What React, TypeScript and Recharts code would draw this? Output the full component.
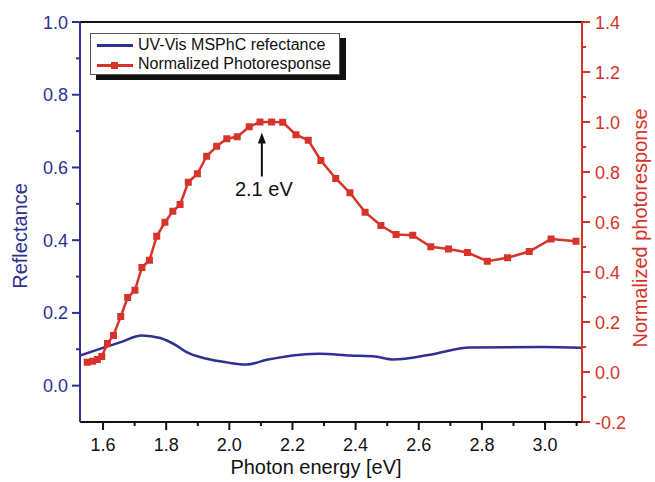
import { LineChart, Line, XAxis, YAxis, ReferenceLine } from "recharts";

// Reflectance spectrum (left axis) and normalized photoresponse (right axis)
const BLUE = "#2e3190";
const RED = "#d6342a";
const FONT = "Arial, 'Liberation Sans', sans-serif";

const reflEnergy = [1.527, 1.59, 1.654, 1.723, 1.781, 1.833, 1.865, 1.928, 1.992, 2.055, 2.119, 2.224, 2.287, 2.382, 2.462, 2.52, 2.636, 2.762, 2.994, 3.117];
const reflValue = [0.083, 0.101, 0.119, 0.138, 0.131, 0.11, 0.092, 0.074, 0.064, 0.058, 0.071, 0.085, 0.088, 0.083, 0.08, 0.072, 0.085, 0.105, 0.106, 0.104];

const photoEnergy = [
  1.55, 1.567, 1.582, 1.596, 1.614, 1.633, 1.656, 1.678, 1.701, 1.723, 1.747, 1.77, 1.796, 1.821,
  1.844, 1.87, 1.899, 1.928, 1.96, 1.992, 2.025, 2.063, 2.097, 2.134, 2.169, 2.211, 2.25, 2.29,
  2.337, 2.382, 2.43, 2.48, 2.528, 2.581, 2.638, 2.694, 2.754, 2.817, 2.881, 2.95, 3.019, 3.098,
];
const photoValue = [
  0.039, 0.043, 0.05, 0.062, 0.114, 0.146, 0.222, 0.298, 0.327, 0.418, 0.447, 0.543, 0.599, 0.643,
  0.67, 0.759, 0.793, 0.863, 0.903, 0.933, 0.941, 0.981, 1.0, 1.0, 0.999, 0.949, 0.927, 0.846,
  0.774, 0.717, 0.639, 0.586, 0.55, 0.547, 0.501, 0.492, 0.478, 0.443, 0.457, 0.482, 0.532, 0.523,
];

const xTicks = [1.6, 1.7, 1.8, 1.9, 2.0, 2.1, 2.2, 2.3, 2.4, 2.5, 2.6, 2.7, 2.8, 2.9, 3.0, 3.1];
const leftTicks = [0, 0.1, 0.2, 0.3, 0.4, 0.5, 0.6, 0.7, 0.8, 0.9, 1.0];
const rightTicks = [-0.2, -0.1, 0, 0.1, 0.2, 0.3, 0.4, 0.5, 0.6, 0.7, 0.8, 0.9, 1.0, 1.1, 1.2, 1.3, 1.4];

const reflData = reflEnergy.map((x, i) => ({ x, y: reflValue[i] }));
const photoData = photoEnergy.map((x, i) => ({ x, y: photoValue[i] }));

function isMajor(v: number) {
  return Math.abs(Math.round(v * 10)) % 2 === 0;
}

// tickSize/tickMargin are 0, so x/y below sit right on the axis line
function makeTick(side: "left" | "right" | "bottom", color: string) {
  return (props: any) => {
    const { x, y, payload } = props;
    const v = payload.value as number;
    const len = isMajor(v) ? 8 : 4;
    const label = isMajor(v) ? v.toFixed(1) : "";
    if (side === "bottom") {
      return (
        <g>
          <line x1={x} y1={y} x2={x} y2={y + len} stroke="#111" strokeWidth={2} />
          <text x={x} y={y + 29} textAnchor="middle" fill="#111" fontSize={18} fontFamily={FONT}>
            {label}
          </text>
        </g>
      );
    }
    const sign = side === "left" ? -1 : 1;
    return (
      <g>
        <line x1={x} y1={y} x2={x + sign * len} y2={y} stroke={color} strokeWidth={2} />
        <text
          x={x + sign * (side === "left" ? 12 : 13)}
          y={y + 6.5}
          textAnchor={side === "left" ? "end" : "start"}
          fill={color}
          fontSize={18}
          fontFamily={FONT}
        >
          {label}
        </text>
      </g>
    );
  };
}

const SquareDot = (props: any) => {
  const { cx, cy } = props;
  if (cx == null || cy == null) return <g />;
  return <rect x={cx - 3.5} y={cy - 3.5} width={7} height={7} fill={RED} />;
};

const PeakArrow = (props: any) => {
  const { x1, y1, x2, y2 } = props;
  const bottom = Math.max(y1, y2);
  const top = Math.min(y1, y2);
  return (
    <g>
      <line x1={x1} y1={bottom} x2={x2} y2={top + 8} stroke="#111" strokeWidth={2} />
      <polygon points={`${x2},${top} ${x2 - 4},${top + 11} ${x2 + 4},${top + 11}`} fill="#111" />
      <text x={x1 + 2} y={bottom + 19} textAnchor="middle" fill="#111" fontSize={20} fontFamily={FONT}>
        2.1 eV
      </text>
    </g>
  );
};

export default function App() {
  return (
    <div style={{ position: "absolute", left: 0, top: 0, width: 655, height: 482, background: "#fff" }}>
      <LineChart width={655} height={482} margin={{ top: 22, right: 0, bottom: 0, left: 0 }}>
        <XAxis
          dataKey="x"
          type="number"
          domain={[1.527, 3.117]}
          ticks={xTicks}
          interval={0}
          allowDataOverflow
          height={60}
          tickSize={0}
          tickMargin={0}
          tickLine={false}
          axisLine={{ stroke: "#111", strokeWidth: 2 }}
          tick={makeTick("bottom", "#111")}
          label={(p: any) => (
            <text x={316} y={474} textAnchor="middle" fill="#111" fontSize={20} fontFamily={FONT}>
              Photon energy [eV]
            </text>
          )}
        />
        <YAxis
          yAxisId="left"
          orientation="left"
          type="number"
          domain={[-0.1, 1.0]}
          ticks={leftTicks}
          interval={0}
          allowDataOverflow
          width={80}
          tickSize={0}
          tickMargin={0}
          tickLine={false}
          axisLine={{ stroke: BLUE, strokeWidth: 2 }}
          tick={makeTick("left", BLUE)}
          label={(p: any) => (
            <text x={27} y={236} transform="rotate(-90 27 236)" textAnchor="middle" fill={BLUE} fontSize={20} fontFamily={FONT}>
              Reflectance
            </text>
          )}
        />
        <YAxis
          yAxisId="right"
          orientation="right"
          type="number"
          domain={[-0.2, 1.4]}
          ticks={rightTicks}
          interval={0}
          allowDataOverflow
          width={73}
          tickSize={0}
          tickMargin={0}
          tickLine={false}
          axisLine={{ stroke: RED, strokeWidth: 2 }}
          tick={makeTick("right", RED)}
          label={(p: any) => (
            <text x={647} y={228} transform="rotate(-90 647 228)" textAnchor="middle" fill={RED} fontSize={20} fontFamily={FONT}>
              Normalized photoresponse
            </text>
          )}
        />
        <ReferenceLine yAxisId="left" y={1.0} stroke="#111" strokeWidth={2} />
        <ReferenceLine
          yAxisId="right"
          segment={[{ x: 2.103, y: 0.782 }, { x: 2.103, y: 0.958 }]}
          shape={PeakArrow}
        />
        <Line
          yAxisId="left"
          data={reflData}
          dataKey="y"
          type="monotone"
          stroke={BLUE}
          strokeWidth={2.5}
          dot={false}
          isAnimationActive={false}
        />
        <Line
          yAxisId="right"
          data={photoData}
          dataKey="y"
          type="linear"
          stroke={RED}
          strokeWidth={2.5}
          dot={<SquareDot />}
          isAnimationActive={false}
        />
      </LineChart>
      <div
        style={{
          position: "absolute",
          left: 90,
          top: 33,
          width: 250,
          height: 42,
          background: "#fff",
          border: "1px solid #555",
          boxShadow: "6px 5px 0 #111",
          boxSizing: "border-box",
          fontFamily: FONT,
          fontSize: 16,
          color: "#111",
        }}
      >
        <div style={{ position: "absolute", left: 6, top: 10, width: 36, height: 2.5, background: BLUE }} />
        <div style={{ position: "absolute", left: 47, top: 1, lineHeight: "20px" }}>UV-Vis MSPhC refectance</div>
        <div style={{ position: "absolute", left: 6, top: 30, width: 36, height: 2.5, background: RED }} />
        <div style={{ position: "absolute", left: 20, top: 27.5, width: 7, height: 7, background: RED }} />
        <div style={{ position: "absolute", left: 47, top: 20, lineHeight: "20px" }}>Normalized Photoresponse</div>
      </div>
    </div>
  );
}
